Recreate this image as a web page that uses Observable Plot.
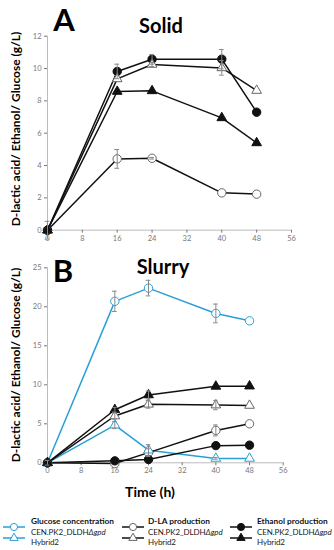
<!DOCTYPE html>
<html><head><meta charset="utf-8">
<script src="https://cdn.jsdelivr.net/npm/d3@7"></script>
<script src="https://cdn.jsdelivr.net/npm/@observablehq/plot@0.6"></script>
<style>
body{margin:0;background:#fff;font-family:Lato,"Open Sans",sans-serif;}
#wrap{position:relative;width:334px;height:550px;overflow:hidden;background:#fff;}
.abs{position:absolute;white-space:nowrap;}
.ylab{font-weight:bold;font-size:12px;color:#000;transform:translate(-50%,-50%) rotate(-90deg);}
.big{font-weight:bold;font-size:31px;color:#000;transform:translate(-50%,-50%);}
.ttl{font-weight:bold;font-size:20px;color:#000;transform:translate(-50%,-50%);}
.xlab{font-weight:bold;font-size:14px;color:#000;transform:translate(-50%,-50%);}
.lh{font-weight:bold;font-size:8.3px;color:#111;line-height:10px;}
.lt{font-size:8px;color:#222;line-height:10px;letter-spacing:-0.1px;}
svg text{font-family:Lato,"Open Sans",sans-serif;}
</style></head><body><div id="wrap"></div>
<script>
// ---- data ----
const times = [0, 16, 24, 40, 48];
const xTicks = [0, 8, 16, 24, 32, 40, 48, 56];
const yTicksSolid = [0, 2, 4, 6, 8, 10, 12];
const yTicksSlurry = [0, 5, 10, 15, 20, 25];

// Panel A: Solid
const solidEthanolCEN = [0, 9.82, 10.57, 10.58, 7.3];
const solidEthanolCENErr = [0, 0.45, 0.3, 0.6, 0];
const solidDLAHybrid = [0, 9.36, 10.25, 10.04, 8.64];
const solidDLAHybridErr = [0, 0, 0.12, 0.45, 0];
const solidEthanolHybrid = [0, 8.58, 8.62, 6.95, 5.4];
const solidEthanolHybridErr = [0, 0, 0, 0, 0];
const solidDLACEN = [0, 4.41, 4.45, 2.31, 2.23];
const solidDLACENErr = [0.55, 0.58, 0.05, 0, 0];

// Panel B: Slurry
const slurryGlucoseCEN = [0, 20.7, 22.4, 19.15, 18.2];
const slurryGlucoseCENErr = [0.3, 1.3, 1.0, 1.2, 0];
const slurryGlucoseHybrid = [0, 4.83, 1.62, 0.56, 0.56];
const slurryGlucoseHybridErr = [0, 0.45, 0.7, 0.1, 0];
const slurryEthanolHybrid = [0, 6.8, 8.7, 9.8, 9.83];
const slurryEthanolHybridErr = [0, 0.3, 0.5, 0, 0];
const slurryDLAHybrid = [0, 6.0, 7.5, 7.4, 7.35];
const slurryDLAHybridErr = [0, 0.4, 0.5, 0.6, 0];
const slurryDLACEN = [0, -0.1, 1.3, 4.15, 5.0];
const slurryDLACENErr = [0, 0, 0.5, 0.7, 0];
const slurryEthanolCEN = [0, 0.25, 0.43, 2.2, 2.26];
const slurryEthanolCENErr = [0, 0, 0, 0, 0];

const BLUE = "#2a9fd6", BLACK = "#111", GREY = "#666";

const solidSeries = [
  {key:"eCEN", v:solidEthanolCEN, e:solidEthanolCENErr, sym:"circle", filled:true, color:BLACK},
  {key:"dH", v:solidDLAHybrid, e:solidDLAHybridErr, sym:"triangle", filled:false, color:BLACK},
  {key:"eH", v:solidEthanolHybrid, e:solidEthanolHybridErr, sym:"triangle", filled:true, color:BLACK},
  {key:"dCEN", v:solidDLACEN, e:solidDLACENErr, sym:"circle", filled:false, color:BLACK}
];
const slurrySeries = [
  {key:"gCEN", v:slurryGlucoseCEN, e:slurryGlucoseCENErr, sym:"circle", filled:false, color:BLUE},
  {key:"gH", v:slurryGlucoseHybrid, e:slurryGlucoseHybridErr, sym:"triangle", filled:false, color:BLUE},
  {key:"eH", v:slurryEthanolHybrid, e:slurryEthanolHybridErr, sym:"triangle", filled:true, color:BLACK},
  {key:"dH", v:slurryDLAHybrid, e:slurryDLAHybridErr, sym:"triangle", filled:false, color:BLACK},
  {key:"dCEN", v:slurryDLACEN, e:slurryDLACENErr, sym:"circle", filled:false, color:BLACK},
  {key:"eCEN", v:slurryEthanolCEN, e:slurryEthanolCENErr, sym:"circle", filled:true, color:BLACK}
];

function panel(series, o) {
  const rows = series.flatMap(s => times.map((t, i) => ({t, v:s.v[i], e:s.e[i], key:s.key, sym:s.sym, filled:s.filled, color:s.color})));
  const err = rows.filter(d => d.e > 0);
  const dotMarks = [];
  for (const sym of ["circle", "triangle"]) {
    for (const filled of [false, true]) {
      const sub = rows.filter(d => d.sym === sym && d.filled === filled);
      if (!sub.length) continue;
      dotMarks.push(Plot.dot(sub, {x:"t", y:"v", symbol:sym, r: sym === "circle" ? 4.2 : 3.6,
        fill: filled ? "color" : "white", stroke: filled ? "color" : (d => d.color === BLUE ? BLUE : GREY), strokeWidth:1}));
    }
  }
  return Plot.plot({
    width:334, height:o.h, marginLeft:47, marginRight:o.mr, marginTop:o.mt, marginBottom:o.mb,
    style:{background:"transparent", overflow:"visible"},
    x:{domain:[0,56]}, y:{domain:[0,o.ymax]},
    color:{type:"identity"},
    marks:[
      Plot.ruleY([0], {stroke:"#bbb", strokeWidth:1}),
      Plot.ruleX([0], {stroke:"#bbb", strokeWidth:1}),
      Plot.axisX({ticks:xTicks, tickSize:3, tickPadding:2, fontSize:7.5, color:"#777", label:null}),
      Plot.axisY({ticks:o.yTicks, tickSize:3, tickPadding:3, fontSize:7.5, color:"#777", label:null}),
      Plot.line(rows, {x:"t", y:"v", z:"key", stroke:"color", strokeWidth:1.5}),
      ...dotMarks,
      Plot.ruleX(err, {x:"t", y1:d => d.v - d.e, y2:d => d.v + d.e, stroke:"#888", strokeWidth:1}),
      Plot.ruleY(err, {y:d => d.v + d.e, x1:d => d.t - 0.55, x2:d => d.t + 0.55, stroke:"#888", strokeWidth:1}),
      Plot.ruleY(err, {y:d => d.v - d.e, x1:d => d.t - 0.55, x2:d => d.t + 0.55, stroke:"#888", strokeWidth:1})
    ]
  });
}

const wrap = document.getElementById("wrap");
function add(el, left, top) { el.style.position = "absolute"; el.style.left = left + "px"; el.style.top = top + "px"; wrap.appendChild(el); return el; }
function txt(cls, s, left, top) { const d = document.createElement("div"); d.className = "abs " + cls; d.innerHTML = s; return add(d, left, top); }

add(panel(solidSeries, {h:245, mt:35.7, mb:15.3, mr:43, ymax:12, yTicks:yTicksSolid}), 0, 0);
add(panel(slurrySeries, {h:230, mt:17.3, mb:17.7, mr:51.3, ymax:25, yTicks:yTicksSlurry}), 0, 250);

txt("big", "A", 64, 19);
txt("ttl", "Solid", 161, 25);
txt("big", "B", 63, 270);
txt("ttl", "Slurry", 163, 266);
txt("ylab", "D-lactic acid/ Ethanol/ Glucose (g/L)", 15, 129);
txt("ylab", "D-lactic acid/ Ethanol/ Glucose (g/L)", 15, 365);
txt("xlab", "Time (h)", 150, 491);

// legend
const legendGroups = [
  {title:"Glucose concentration", color:BLUE, filled:false, ix:2, tx:31},
  {title:"D-LA production", color:BLACK, filled:false, ix:121, tx:148},
  {title:"Ethanol production", color:BLACK, filled:true, ix:229, tx:257}
];
const legendRows = ["CEN.PK2_DLDH<i>&Delta;gpd</i>", "Hybrid2"];
for (const g of legendGroups) {
  txt("lh", g.title, g.tx, 516);
  txt("lt", legendRows[0], g.tx, 527);
  txt("lt", legendRows[1], g.tx, 537);
  const svg = d3.create("svg").attr("width", 24).attr("height", 24);
  const mk = g.filled ? g.color : "white";
  const st = g.color === BLUE ? BLUE : (g.filled ? BLACK : GREY);
  svg.append("line").attr("x1",1).attr("x2",23).attr("y1",5).attr("y2",5).attr("stroke",g.color).attr("stroke-width",1.5);
  svg.append("circle").attr("cx",12).attr("cy",5).attr("r",3.6).attr("fill",mk).attr("stroke",st);
  svg.append("line").attr("x1",1).attr("x2",23).attr("y1",16).attr("y2",16).attr("stroke",g.color).attr("stroke-width",1.5);
  svg.append("path").attr("d", d3.symbol(d3.symbolTriangle, 30)()).attr("transform","translate(12,16)").attr("fill",mk).attr("stroke",st);
  add(svg.node(), g.ix, 522);
}
</script></body></html>
